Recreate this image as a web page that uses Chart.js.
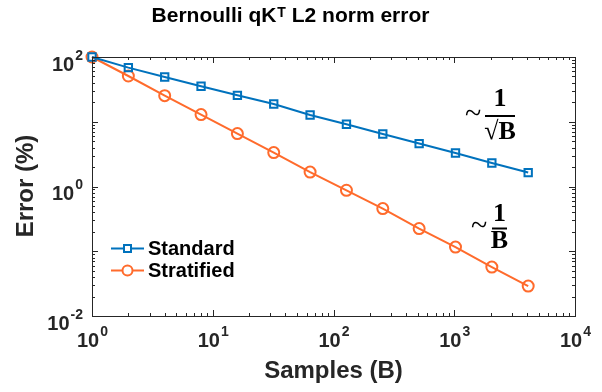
<!DOCTYPE html>
<html>
<head>
<meta charset="utf-8">
<script src="https://cdn.jsdelivr.net/npm/chart.js@4"></script>
<style>
  html, body { margin: 0; padding: 0; background: #fff; }
</style>
</head>
<body>
<canvas id="myChart" width="602" height="392"></canvas>
<script>
// data
const samples = [1, 2, 4, 8, 16, 32, 64, 128, 256, 512, 1024, 2048, 4096];
const standardErr = [100, 68.6, 49.1, 35.3, 25.6, 18.8, 12.7, 9.14, 6.47, 4.6, 3.29, 2.31, 1.64];
const stratifiedErr = [100, 50.9, 25.3, 12.9, 6.56, 3.34, 1.67, 0.874, 0.456, 0.224, 0.116, 0.057, 0.029];
const seriesNames = ['Standard', 'Stratified'];
const xTickExps = [0, 1, 2, 3, 4];
const yTickExps = [-2, 0, 2];

const blue = '#0072BD';
const orange = '#FF6B2C';
const axisColor = '#262626';
const sans = '"Liberation Sans", Arial, Helvetica, sans-serif';
const serif = '"Liberation Serif", "DejaVu Serif", serif';

function toPoints(ys) {
  return samples.map((x, i) => ({ x: x, y: ys[i] }));
}

// "10" with a raised exponent; y is where the exponent sits
function powerLabel(ctx, exp, x, y, align) {
  const base = '10', sup = String(exp);
  ctx.font = 'bold 20px ' + sans;
  const w1 = ctx.measureText(base).width;
  ctx.font = 'bold 14px ' + sans;
  const w2 = ctx.measureText(sup).width;
  let left;
  if (align === 'right') left = x - w1 - w2 - 1;
  else left = x - (w1 + w2) / 2;
  ctx.textAlign = 'left';
  ctx.textBaseline = 'middle';
  ctx.font = 'bold 20px ' + sans;
  ctx.fillText(base, left, y + 8);
  ctx.font = 'bold 14px ' + sans;
  ctx.fillText(sup, left + w1 + 1, y - 1);
}

const decor = {
  id: 'decor',
  afterDraw(chart) {
    const ctx = chart.ctx;
    const a = chart.chartArea;
    const xs = chart.scales.x, ys = chart.scales.y;
    ctx.save();

    // box
    ctx.strokeStyle = axisColor;
    ctx.lineWidth = 1;
    ctx.strokeRect(a.left + 0.5, a.top + 0.5, a.right - a.left, a.bottom - a.top);

    // ticks, pointing inward on all four sides
    ctx.beginPath();
    for (let d = 0; d <= 4; d++) {
      for (let m = 1; m <= 9; m++) {
        const v = m * Math.pow(10, d);
        if (v > 10000) break;
        const px = Math.round(xs.getPixelForValue(v)) + 0.5;
        const len = m === 1 ? 6 : 3;
        ctx.moveTo(px, a.bottom); ctx.lineTo(px, a.bottom - len);
        ctx.moveTo(px, a.top); ctx.lineTo(px, a.top + len);
      }
    }
    for (let d = -2; d <= 2; d++) {
      for (let m = 1; m <= 9; m++) {
        const v = m * Math.pow(10, d);
        if (v > 100) break;
        const py = Math.round(ys.getPixelForValue(v)) + 0.5;
        const len = m === 1 ? 6 : 3;
        ctx.moveTo(a.left, py); ctx.lineTo(a.left + len, py);
        ctx.moveTo(a.right, py); ctx.lineTo(a.right - len, py);
      }
    }
    ctx.stroke();

    // tick labels
    ctx.fillStyle = axisColor;
    xTickExps.forEach(e => {
      powerLabel(ctx, e, xs.getPixelForValue(Math.pow(10, e)), a.bottom + 17, 'center');
    });
    yTickExps.forEach(e => {
      powerLabel(ctx, e, a.left - 9, ys.getPixelForValue(Math.pow(10, e)), 'right');
    });

    // axis titles
    ctx.font = 'bold 24px ' + sans;
    ctx.textAlign = 'center';
    ctx.textBaseline = 'middle';
    ctx.fillText('Samples (B)', (a.left + a.right) / 2, 371);
    ctx.save();
    ctx.translate(26, 186);
    ctx.rotate(-Math.PI / 2);
    ctx.fillText('Error (%)', 0, 0);
    ctx.restore();

    // title with superscript T
    ctx.fillStyle = '#000';
    const t1 = 'Bernoulli qK', t2 = 'T', t3 = ' L2 norm error';
    ctx.font = 'bold 21px ' + sans;
    const w1 = ctx.measureText(t1).width, w3 = ctx.measureText(t3).width;
    ctx.font = 'bold 14px ' + sans;
    const w2 = ctx.measureText(t2).width;
    let tx = 290 - (w1 + w2 + w3) / 2;
    ctx.textAlign = 'left';
    ctx.textBaseline = 'alphabetic';
    ctx.font = 'bold 21px ' + sans;
    ctx.fillText(t1, tx, 22);
    ctx.font = 'bold 14px ' + sans;
    ctx.fillText(t2, tx + w1 + 1, 17);
    ctx.font = 'bold 21px ' + sans;
    ctx.fillText(t3, tx + w1 + w2 + 1, 22);

    // legend
    const legY = [248.5, 270.5];
    chart.data.datasets.forEach((ds, i) => {
      ctx.strokeStyle = ds.borderColor;
      ctx.lineWidth = 2;
      ctx.beginPath();
      ctx.moveTo(111, legY[i]); ctx.lineTo(144, legY[i]);
      ctx.stroke();
      ctx.beginPath();
      if (ds.pointStyle === 'rect') ctx.rect(127.5 - 3.5, legY[i] - 3.5, 7, 7);
      else ctx.arc(127.5, legY[i], 5, 0, Math.PI * 2);
      ctx.fillStyle = '#fff';
      ctx.fill();
      ctx.stroke();
      ctx.fillStyle = '#000';
      ctx.font = 'bold 20px ' + sans;
      ctx.textBaseline = 'middle';
      ctx.fillText(ds.label, 148, legY[i] + 1);
    });

    // slope annotations
    ctx.fillStyle = '#000';
    ctx.strokeStyle = '#000';
    ctx.textAlign = 'center';
    ctx.textBaseline = 'middle';
    ctx.font = '30px ' + serif;
    ctx.fillText('~', 473, 115);
    ctx.font = 'bold 26px ' + serif;
    ctx.fillText('1', 500, 99);
    ctx.fillText('\u221AB', 500, 132);
    ctx.lineWidth = 2;
    ctx.beginPath(); ctx.moveTo(485, 116); ctx.lineTo(515, 116); ctx.stroke();

    ctx.font = '30px ' + serif;
    ctx.fillText('~', 479, 227);
    ctx.font = 'bold 26px ' + serif;
    ctx.fillText('1', 499.5, 214);
    ctx.fillText('B', 499.5, 241);
    ctx.beginPath(); ctx.moveTo(492, 228.5); ctx.lineTo(507, 228.5); ctx.stroke();

    ctx.restore();
  }
};

const ctx = document.getElementById('myChart').getContext('2d');
const chart = new Chart(ctx, {
  type: 'line',
  data: {
    datasets: [{
      label: seriesNames[0],
      data: toPoints(standardErr),
      borderColor: blue,
      borderWidth: 2,
      pointStyle: 'rect',
      pointRadius: 5.2,
      pointBorderWidth: 2,
      pointBackgroundColor: 'rgba(255,255,255,0)',
      pointBorderColor: blue,
      clip: false
    }, {
      label: seriesNames[1],
      data: toPoints(stratifiedErr),
      borderColor: orange,
      borderWidth: 2,
      pointStyle: 'circle',
      pointRadius: 5.5,
      pointBorderWidth: 2,
      pointBackgroundColor: 'rgba(255,255,255,0)',
      pointBorderColor: orange,
      clip: false
    }]
  },
  options: {
    responsive: false,
    animation: false,
    devicePixelRatio: 1,
    layout: { padding: { left: 92, right: 27, top: 57, bottom: 76 } },
    scales: {
      x: { type: 'logarithmic', min: 1, max: 10000, display: false },
      y: { type: 'logarithmic', min: 0.01, max: 100, display: false }
    },
    plugins: {
      legend: { display: false },
      title: { display: false },
      tooltip: { enabled: false }
    }
  },
  plugins: [decor]
});
</script>
</body>
</html>
